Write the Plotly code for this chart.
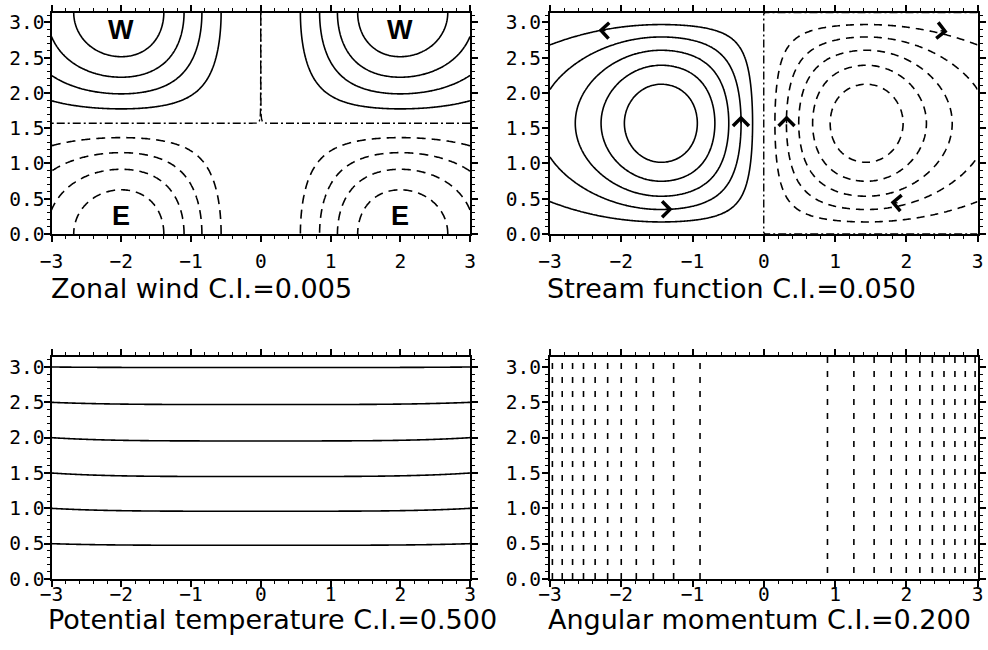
import numpy as np
import plotly.graph_objects as go

# ---------------- data ----------------
panel_titles = ["Zonal wind C.I.=0.005", "Stream function C.I.=0.050",
                "Potential temperature C.I.=0.500", "Angular momentum C.I.=0.200"]
x_ticks = [-3, -2, -1, 0, 1, 2, 3]
y_ticks = [0.0, 0.5, 1.0, 1.5, 2.0, 2.5, 3.0]
y_ticktext = ["0.0", "0.5", "1.0", "1.5", "2.0", "2.5", "3.0"]

# contour intervals
ci_wind, ci_psi, ci_theta, ci_mom = 0.005, 0.05, 0.5, 0.2
# zonal wind: jet maxima at x=+-2 (W at top, E at bottom), peak amplitude
wind_peak_x = 2.0
wind_amp = 0.0247
# stream function: cell centres at x=+-1.44, y=pi/2; peak value; outer width
psi_center_x = 1.44
psi_amp = 0.294
psi_outer_width = 1.23
# potential temperature: levels 0.5..3.0 with small central dip
theta_dip = 0.05
# angular momentum: curvature (levels -0.2 ... -2.2)
mom_curv = 0.25

# labels and arrows
wind_labels = [("W", -2, 2.9), ("W", 2, 2.9), ("E", -2, 0.25), ("E", 2, 0.25)]
# (head x, head y, tail x, tail y)
psi_arrows = [(-2.32, 2.89, -2.2, 2.885), (-1.28, 0.35, -1.4, 0.35),
              (-0.32, 1.68, -0.32, 1.55), (0.32, 1.68, 0.32, 1.55),
              (2.58, 2.87, 2.46, 2.885), (1.78, 0.45, 1.9, 0.44)]

# ---------------- grids / fields ----------------
xs = np.linspace(-3, 3, 301)
ys = np.linspace(0, np.pi, 158)
X, Y = np.meshgrid(xs, ys)

g = (X / wind_peak_x) ** 2 * np.exp(1 - (X / wind_peak_x) ** 2)
U = -wind_amp * g * np.cos(Y)

ax_ = np.abs(X)
f_in = np.sin(np.pi * ax_ / (2 * psi_center_x))
f_out = 1.0 / (1.0 + ((ax_ - psi_center_x) / psi_outer_width) ** 2)
f = np.where(ax_ <= psi_center_x, f_in, f_out) * -np.sign(X)
PSI = psi_amp * f * np.sin(Y)

TH = Y + theta_dip * np.sin(Y) * (1 - (X / 3.0) ** 4)
M = -mom_curv * X ** 2

fig = go.Figure()

def contour(z, start, end, size, dash, xa, ya, width=1.6):
    fig.add_trace(go.Contour(
        x=xs, y=ys, z=z, xaxis=xa, yaxis=ya, showscale=False,
        contours=dict(coloring="none", start=start, end=end, size=size, showlabels=False),
        line=dict(color="black", width=width, dash=dash), hoverinfo="skip"))

# Zonal wind
contour(U, ci_wind, 4 * ci_wind, ci_wind, "solid", "x", "y")
contour(U, -4 * ci_wind, -ci_wind, ci_wind, "9px,6px", "x", "y")
contour(U - 1e-5 * wind_amp, 0, 0, 1, "8px,3px,2px,3px", "x", "y", 1.4)
# Stream function
contour(PSI, ci_psi, 5 * ci_psi, ci_psi, "solid", "x2", "y2")
contour(PSI, -5 * ci_psi, -ci_psi, ci_psi, "8px,6px", "x2", "y2")
contour(PSI + 1e-6, 0, 0, 1, "8px,3px,2px,3px", "x2", "y2", 1.4)
# Potential temperature
contour(TH, ci_theta, 6 * ci_theta, ci_theta, "solid", "x3", "y3")
# Angular momentum
contour(M, -11 * ci_mom, -ci_mom, ci_mom, "6px,8px", "x4", "y4")

tickfont = dict(family="DejaVu Sans Mono", size=19.5, color="black")
def xaxis(dom, anchor, standoff):
    return dict(domain=dom, anchor=anchor, range=[-3, 3], tickmode="array", tickvals=x_ticks,
                showline=True, linewidth=2, linecolor="black", mirror="ticks",
                ticks="outside", ticklen=6, tickwidth=1.5, tickcolor="black",
                ticklabelstandoff=standoff,
                showgrid=False, zeroline=False, tickfont=tickfont,
                minor=dict(dtick=0.2, tick0=-3, ticks="outside", ticklen=3, tickwidth=1, tickcolor="black", showgrid=False))
def yaxis(dom, anchor, standoff):
    return dict(domain=dom, anchor=anchor, range=[0, np.pi], tickmode="array", tickvals=y_ticks,
                ticktext=y_ticktext,
                showline=True, linewidth=2, linecolor="black", mirror="ticks",
                ticks="outside", ticklen=6, tickwidth=1.5, tickcolor="black",
                ticklabelstandoff=standoff,
                showgrid=False, zeroline=False, tickfont=tickfont,
                minor=dict(dtick=0.1, tick0=0, ticks="outside", ticklen=3, tickwidth=1, tickcolor="black", showgrid=False))

W, H = 988, 650
xl = [51.5 / W, 470 / W]
xr = [550 / W, 977.5 / W]
yt = [1 - 234 / H, 1 - 12.5 / H]
yb = [1 - 579 / H, 1 - 357 / H]

annotations = []
for t, x, y in wind_labels:
    annotations.append(dict(text=t, x=x, y=y, xref="x", yref="y", showarrow=False,
                            font=dict(family="Liberation Sans", size=27, color="black", weight="bold")))
for hx, hy, tx, ty in psi_arrows:
    annotations.append(dict(x=hx, y=hy, ax=tx, ay=ty, xref="x2", yref="y2", axref="x2", ayref="y2",
                            text="", showarrow=True, arrowhead=4, arrowsize=2.2, arrowwidth=1.4,
                            arrowcolor="black", standoff=0))
title_pos = [(50, 288), (546, 288), (47, 619), (547, 619)]
for t, (px, py) in zip(panel_titles, title_pos):
    annotations.append(dict(text=t, x=px / W, y=1 - py / H, xref="paper", yref="paper",
                            xanchor="left", yanchor="middle", showarrow=False, borderpad=0,
                            font=dict(family="DejaVu Sans", size=27, color="black")))

fig.update_layout(
    width=W, height=H, margin=dict(l=0, r=0, t=0, b=0, autoexpand=False),
    paper_bgcolor="white", plot_bgcolor="white", showlegend=False,
    xaxis=xaxis(xl, "y", 3), yaxis=yaxis(yt, "x", -5),
    xaxis2=xaxis(xr, "y2", 3), yaxis2=yaxis(yt, "x2", -3),
    xaxis3=xaxis(xl, "y3", -9), yaxis3=yaxis(yb, "x3", -5),
    xaxis4=xaxis(xr, "y4", -9), yaxis4=yaxis(yb, "x4", -3),
    annotations=annotations,
)
fig.write_html("out.html")
